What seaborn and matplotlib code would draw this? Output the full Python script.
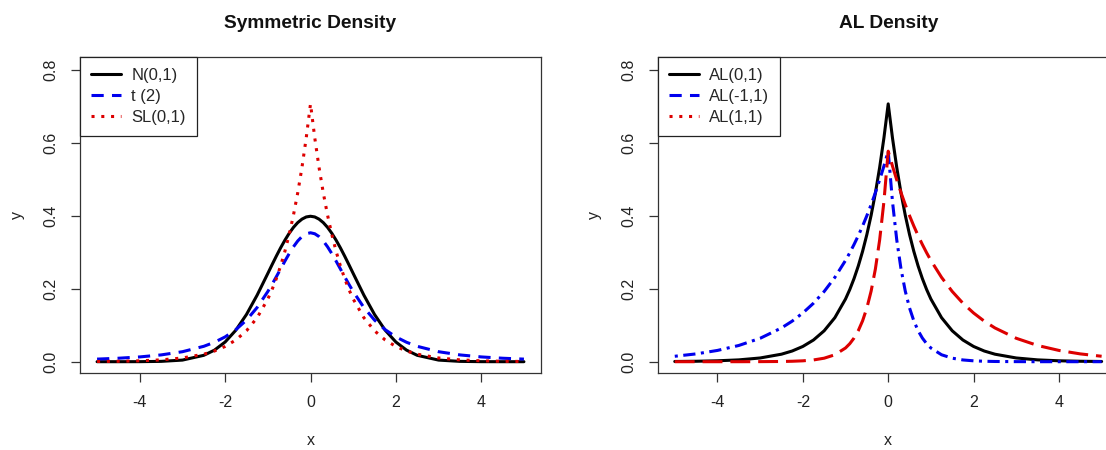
import matplotlib
matplotlib.use("Agg")
import matplotlib.pyplot as plt
from matplotlib.lines import Line2D
import seaborn as sns
import pandas as pd

# Evaluation grid (denser near the peak)
x_grid = [-5, -4.5, -4, -3.5, -3, -2.5, -2.25, -2, -1.75, -1.5, -1.25, -1,
          -0.9, -0.8, -0.7, -0.6, -0.5, -0.4, -0.3, -0.2, -0.1, 0,
          0.1, 0.2, 0.3, 0.4, 0.5, 0.6, 0.7, 0.8, 0.9, 1,
          1.25, 1.5, 1.75, 2, 2.25, 2.5, 3, 3.5, 4, 4.5, 5]

# Symmetric densities
normal_01 = [0.0000, 0.0000, 0.0001, 0.0009, 0.0044, 0.0175, 0.0317, 0.0540, 0.0863, 0.1295, 0.1826, 0.2420,
             0.2661, 0.2897, 0.3123, 0.3332, 0.3521, 0.3683, 0.3814, 0.3910, 0.3970, 0.3989,
             0.3970, 0.3910, 0.3814, 0.3683, 0.3521, 0.3332, 0.3123, 0.2897, 0.2661, 0.2420,
             0.1826, 0.1295, 0.0863, 0.0540, 0.0317, 0.0175, 0.0044, 0.0009, 0.0001, 0.0000, 0.0000]
t_2 = [0.0071, 0.0095, 0.0131, 0.0186, 0.0274, 0.0422, 0.0533, 0.0680, 0.0878, 0.1141, 0.1487, 0.1925,
       0.2123, 0.2331, 0.2545, 0.2758, 0.2963, 0.3150, 0.3310, 0.3432, 0.3509, 0.3536,
       0.3509, 0.3432, 0.3310, 0.3150, 0.2963, 0.2758, 0.2545, 0.2331, 0.2123, 0.1925,
       0.1487, 0.1141, 0.0878, 0.0680, 0.0533, 0.0422, 0.0274, 0.0186, 0.0131, 0.0095, 0.0071]
sl_01 = [0.0006, 0.0012, 0.0025, 0.0050, 0.0102, 0.0206, 0.0293, 0.0418, 0.0595, 0.0848, 0.1207, 0.1719,
         0.1980, 0.2281, 0.2628, 0.3027, 0.3487, 0.4016, 0.4626, 0.5329, 0.6139, 0.7071,
         0.6139, 0.5329, 0.4626, 0.4016, 0.3487, 0.3027, 0.2628, 0.2281, 0.1980, 0.1719,
         0.1207, 0.0848, 0.0595, 0.0418, 0.0293, 0.0206, 0.0102, 0.0050, 0.0025, 0.0012, 0.0006]

# Asymmetric Laplace densities
al_0_1 = [0.0006, 0.0012, 0.0025, 0.0050, 0.0102, 0.0206, 0.0293, 0.0418, 0.0595, 0.0848, 0.1207, 0.1719,
          0.1980, 0.2281, 0.2628, 0.3027, 0.3487, 0.4016, 0.4626, 0.5329, 0.6139, 0.7071,
          0.6139, 0.5329, 0.4626, 0.4016, 0.3487, 0.3027, 0.2628, 0.2281, 0.1980, 0.1719,
          0.1207, 0.0848, 0.0595, 0.0418, 0.0293, 0.0206, 0.0102, 0.0050, 0.0025, 0.0012, 0.0006]
al_m1_1 = [0.0149, 0.0214, 0.0309, 0.0445, 0.0642, 0.0926, 0.1112, 0.1336, 0.1604, 0.1926, 0.2312, 0.2777,
           0.2988, 0.3215, 0.3459, 0.3721, 0.4004, 0.4308, 0.4636, 0.4987, 0.5366, 0.5774,
           0.4394, 0.3343, 0.2544, 0.1936, 0.1473, 0.1121, 0.0853, 0.0649, 0.0494, 0.0376,
           0.0190, 0.0096, 0.0048, 0.0024, 0.0012, 0.0006, 0.0002, 0.0000, 0.0000, 0.0000, 0.0000]
al_p1_1 = [0.0000, 0.0000, 0.0000, 0.0000, 0.0002, 0.0006, 0.0012, 0.0024, 0.0048, 0.0096, 0.0190, 0.0376,
           0.0494, 0.0649, 0.0853, 0.1121, 0.1473, 0.1936, 0.2544, 0.3343, 0.4394, 0.5774,
           0.5366, 0.4987, 0.4636, 0.4308, 0.4004, 0.3721, 0.3459, 0.3215, 0.2988, 0.2777,
           0.2312, 0.1926, 0.1604, 0.1336, 0.1112, 0.0926, 0.0642, 0.0445, 0.0309, 0.0214, 0.0149]

sym_labels = ["N(0,1)", "t (2)", "SL(0,1)"]
al_labels = ["AL(0,1)", "AL(-1,1)", "AL(1,1)"]
x_ticks = [-4, -2, 0, 2, 4]
y_ticks = [0.0, 0.2, 0.4, 0.6, 0.8]
y_tick_labels = ["0.0", "0.2", "0.4", "0.6", "0.8"]

sns.set_theme(style="white")
plt.rcParams["font.family"] = ["Liberation Sans", "DejaVu Sans"]

W, H = 1106, 450
fig = plt.figure(figsize=(W / 100, H / 100), dpi=100)

ax_w, ax_h = 461 / W, 316.3 / H
ax_b = (H - 373) / H
ax1 = fig.add_axes([80 / W, ax_b, ax_w, ax_h])
ax2 = fig.add_axes([657.7 / W, ax_b, ax_w, ax_h])

LW = 2.2
solid = "-"
dashed = (0, (4.0, 2.7))
dotted = (0, (1.0, 2.2))
dashdot = (0, (1.0, 1.8, 4.0, 1.8))
longdash = (0, (6.5, 2.6))

sym_df = pd.DataFrame({"x": x_grid, "N": normal_01, "T": t_2, "SL": sl_01})
al_df = pd.DataFrame({"x": x_grid, "A0": al_0_1, "Am": al_m1_1, "Ap": al_p1_1})

sns.lineplot(data=sym_df, x="x", y="N", ax=ax1, color="black", lw=LW, linestyle=solid, errorbar=None)
sns.lineplot(data=sym_df, x="x", y="T", ax=ax1, color="#0000EE", lw=LW, linestyle=dashed, errorbar=None)
sns.lineplot(data=sym_df, x="x", y="SL", ax=ax1, color="#DD0000", lw=LW, linestyle=dotted, errorbar=None)

sns.lineplot(data=al_df, x="x", y="A0", ax=ax2, color="black", lw=LW, linestyle=solid, errorbar=None)
sns.lineplot(data=al_df, x="x", y="Am", ax=ax2, color="#0000EE", lw=LW, linestyle=dashdot, errorbar=None)
sns.lineplot(data=al_df, x="x", y="Ap", ax=ax2, color="#DD0000", lw=LW, linestyle=longdash, errorbar=None)

legend_handles = [
    Line2D([], [], color="black", lw=LW, linestyle=solid),
    Line2D([], [], color="#0000EE", lw=LW, linestyle=dashed),
    Line2D([], [], color="#DD0000", lw=LW, linestyle=dotted),
]

for ax, title, labels in [(ax1, "Symmetric Density", sym_labels), (ax2, "AL Density", al_labels)]:
    ax.set_xlim(-5.4, 5.4)
    ax.set_ylim(-0.031, 0.8365)
    ax.set_xticks(x_ticks)
    ax.set_xticklabels([str(t) for t in x_ticks])
    ax.set_yticks(y_ticks)
    ax.set_yticklabels(y_tick_labels, rotation=90, va="center")
    ax.tick_params(axis="both", which="major", direction="out", length=6.5, width=0.9,
                   color="#333333", labelsize=11.5, labelcolor="#222222", pad=9,
                   bottom=True, left=True)
    for s in ax.spines.values():
        s.set_visible(True)
        s.set_color("#333333")
        s.set_linewidth(0.9)
    ax.set_title(title, fontsize=13.8, fontweight="bold", pad=21, color="#111111")
    ax.set_xlabel("x", fontsize=11.5, color="#222222")
    ax.set_ylabel("y", fontsize=11.5, color="#222222")
    ax.xaxis.set_label_coords(0.5, -0.19)
    ax.yaxis.set_label_coords(-0.12, 0.5)
    leg = ax.legend(legend_handles, labels, loc="upper left", fontsize=12, frameon=True,
                    fancybox=False, framealpha=1, edgecolor="#222222", borderaxespad=0,
                    handlelength=1.8, handletextpad=0.6, labelspacing=0.36, borderpad=0.68)
    leg.get_frame().set_linewidth(0.9)

fig.savefig("out.png", dpi=100)
